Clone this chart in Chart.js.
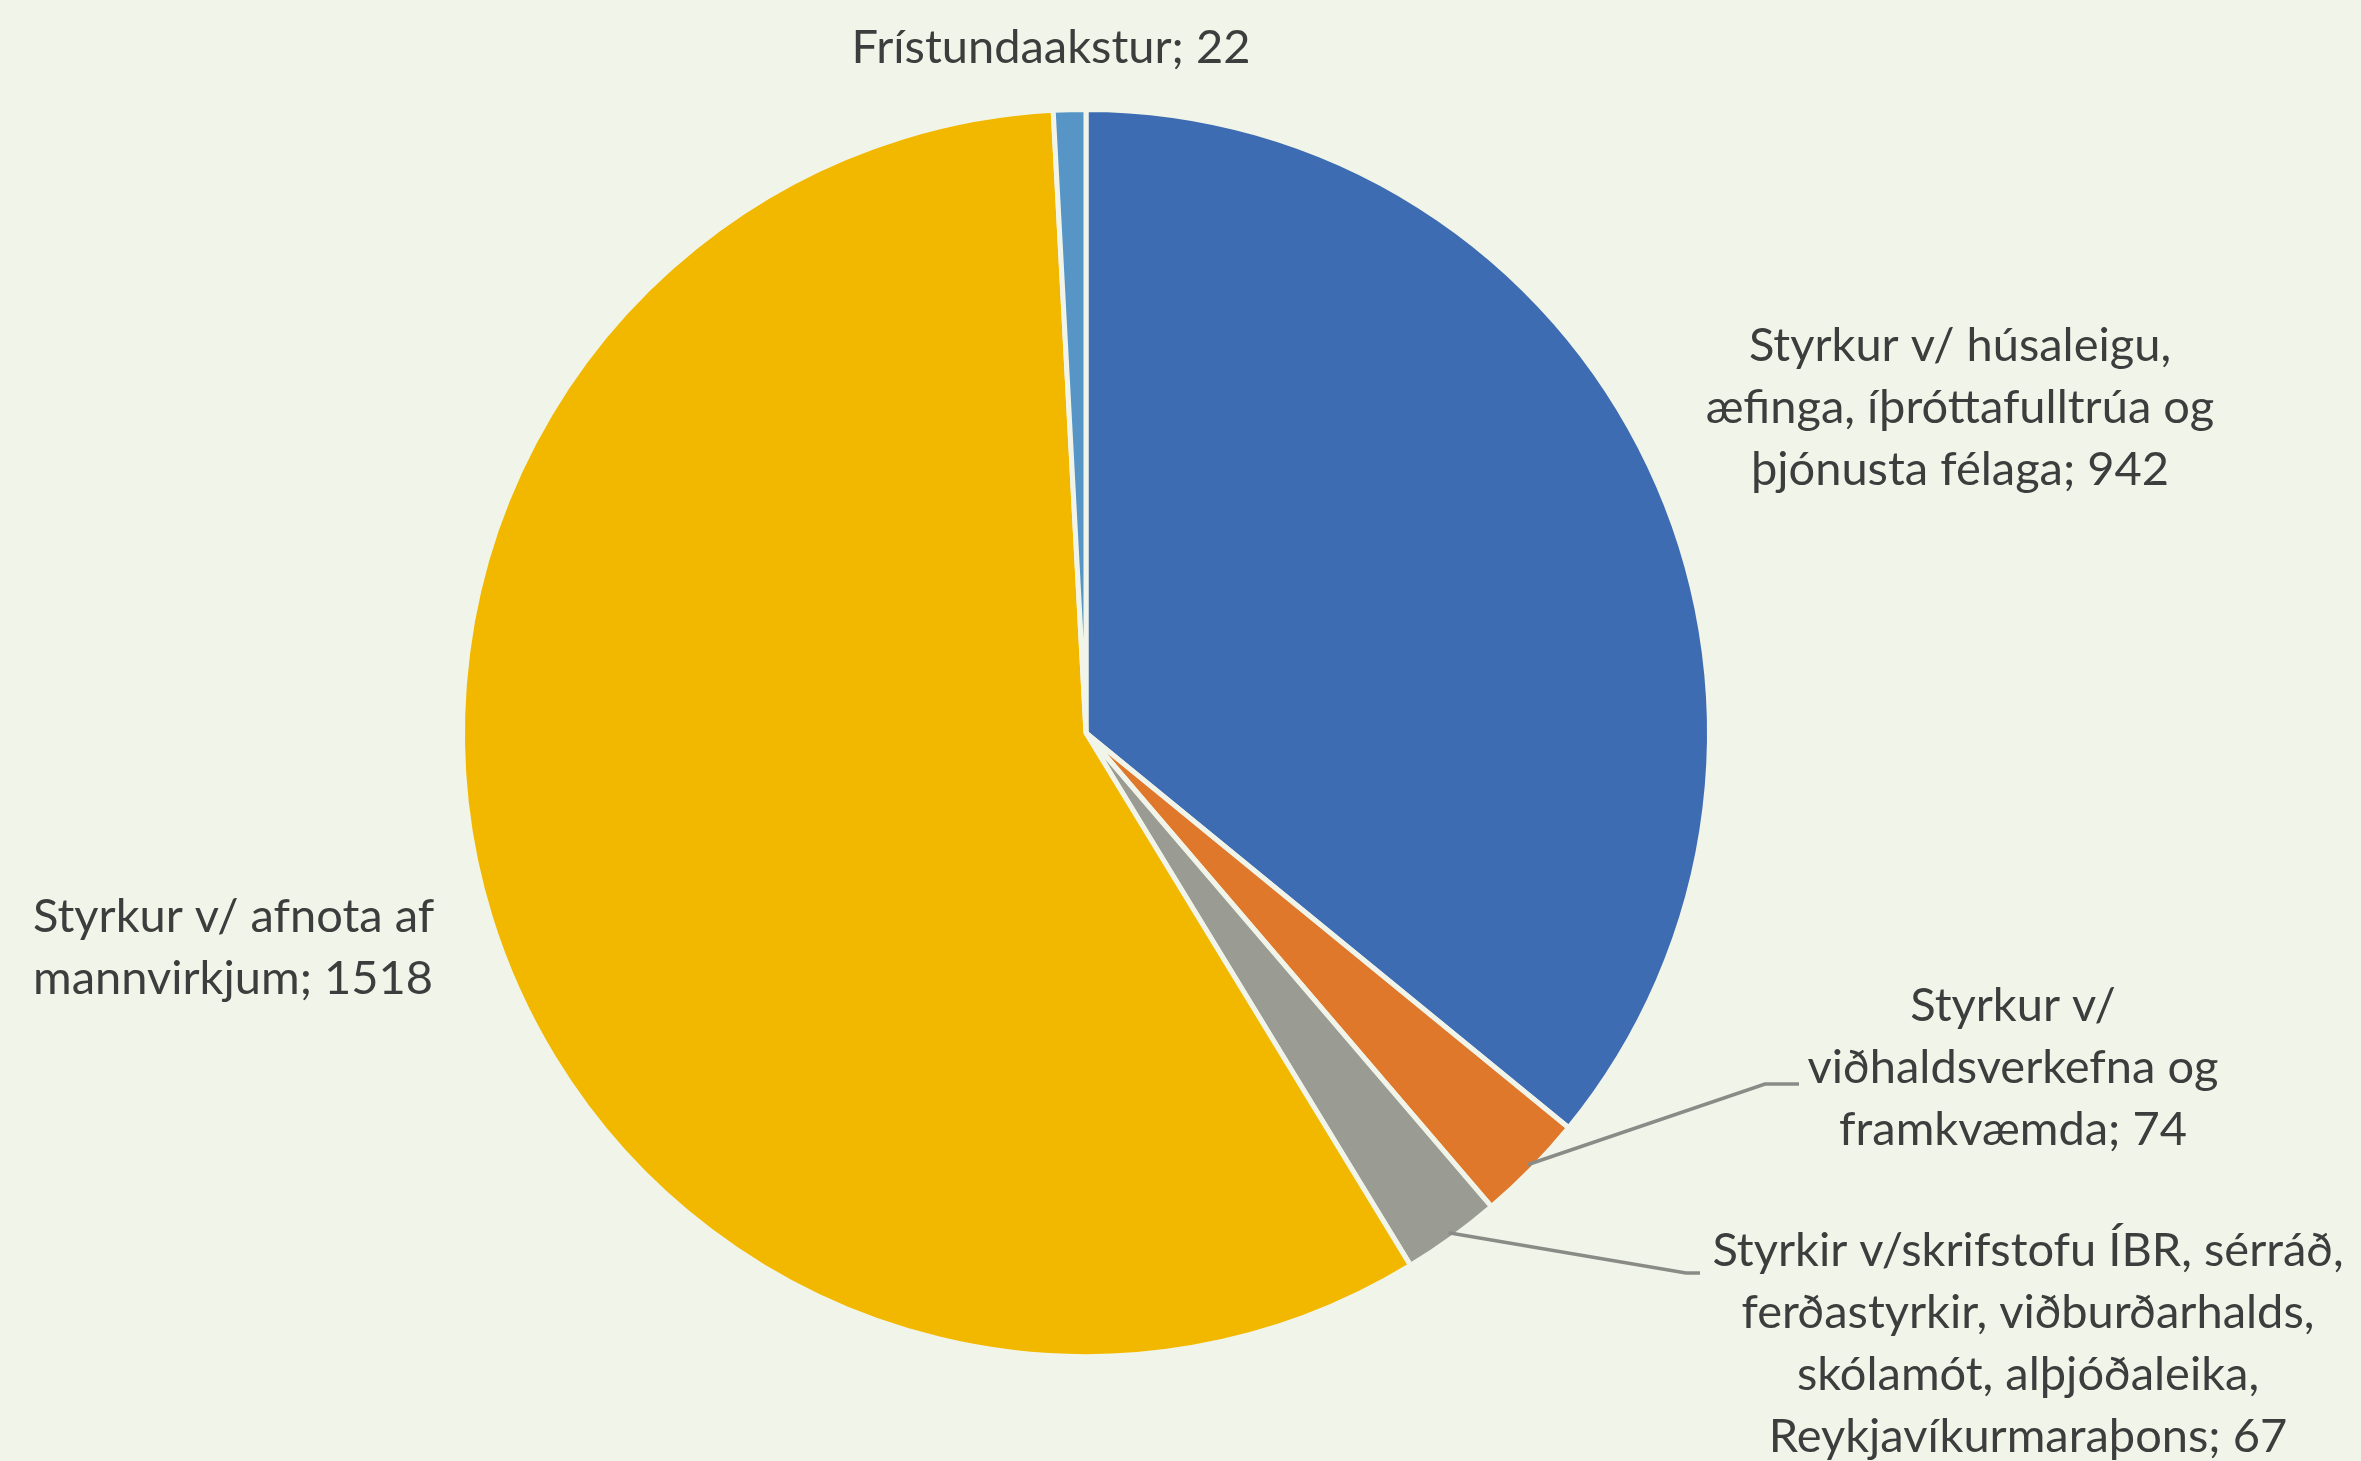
<!DOCTYPE html>
<html>
<head>
<meta charset="utf-8">
<script src="https://cdn.jsdelivr.net/npm/chart.js@4/dist/chart.umd.min.js"></script>
<style>
  html, body { margin: 0; padding: 0; background: #f1f5e9; }
  #wrap { width: 2361px; height: 1461px; }
</style>
</head>
<body>
<div id="wrap"><canvas id="c" width="2361" height="1461"></canvas></div>
<script>
// ---- data ----
const categories = [
  "Styrkur v/ húsaleigu, æfinga, íþróttafulltrúa og þjónusta félaga",
  "Styrkur v/ viðhaldsverkefna og framkvæmda",
  "Styrkir v/skrifstofu ÍBR, sérráð, ferðastyrkir, viðburðarhalds, skólamót, alþjóðaleika, Reykjavíkurmaraþons",
  "Styrkur v/ afnota af mannvirkjum",
  "Frístundaakstur"
];
const values = [942, 74, 67, 1518, 22];
const labelLines = [
  ["Styrkur v/ húsaleigu,", "æfinga, íþróttafulltrúa og", "þjónusta félaga; 942"],
  ["Styrkur v/", "viðhaldsverkefna og", "framkvæmda; 74"],
  ["Styrkir v/skrifstofu ÍBR, sérráð,", "ferðastyrkir, viðburðarhalds,", "skólamót, alþjóðaleika,", "Reykjavíkurmaraþons; 67"],
  ["Styrkur v/ afnota af", "mannvirkjum; 1518"],
  ["Frístundaakstur; 22"]
];
const colors = ["#3e6cb3", "#e0782c", "#9a9c94", "#f2b800", "#5695c6"];

// ---- label layout (annotation placement) ----
const BG = "#f1f5e9";
const labelLayout = [
  { x: 1960, y: 346, align: "center", leader: false },
  { x: 2013, y: 1006, align: "center", leader: true, elbow: [1765, 1084], end: [1799, 1084] },
  { x: 2028, y: 1251, align: "center", leader: true, elbow: [1686, 1273], end: [1700, 1273] },
  { x: 33, y: 917, align: "left", leader: false },
  { x: 1051, y: 48, align: "center", leader: false }
];
const lineGap = 62;

const bgPlugin = {
  id: "bg",
  beforeDraw(chart) {
    const ctx = chart.ctx;
    ctx.save();
    ctx.fillStyle = BG;
    ctx.fillRect(0, 0, chart.width, chart.height);
    ctx.restore();
  }
};

const labelPlugin = {
  id: "labels",
  afterDatasetsDraw(chart) {
    const ctx = chart.ctx;
    const meta = chart.getDatasetMeta(0);
    ctx.save();
    meta.data.forEach((arc, i) => {
      const L = labelLayout[i];
      const p = arc.getProps(["x", "y", "startAngle", "endAngle", "outerRadius"], true);
      if (L.leader) {
        const mid = (p.startAngle + p.endAngle) / 2;
        const sx = p.x + Math.cos(mid) * (p.outerRadius - 6);
        const sy = p.y + Math.sin(mid) * (p.outerRadius - 6);
        ctx.strokeStyle = "#8a8b86";
        ctx.lineWidth = 3.5;
        ctx.beginPath();
        ctx.moveTo(sx, sy);
        ctx.lineTo(L.elbow[0], L.elbow[1]);
        ctx.lineTo(L.end[0], L.end[1]);
        ctx.stroke();
      }
      ctx.fillStyle = "#3d3d3d";
      ctx.font = "47px Lato";
      ctx.textAlign = L.align;
      ctx.textBaseline = "middle";
      labelLines[i].forEach((t, k) => {
        ctx.fillText(t, L.x, L.y + k * lineGap);
      });
    });
    ctx.restore();
  }
};

new Chart(document.getElementById("c"), {
  type: "pie",
  data: {
    labels: categories,
    datasets: [{
      data: values,
      backgroundColor: colors,
      borderColor: BG,
      borderWidth: 5
    }]
  },
  options: {
    responsive: false,
    animation: false,
    layout: { padding: { top: 107, bottom: 102, left: 0, right: 189 } },
    plugins: { legend: { display: false }, tooltip: { enabled: false } }
  },
  plugins: [bgPlugin, labelPlugin]
});
</script>
</body>
</html>
